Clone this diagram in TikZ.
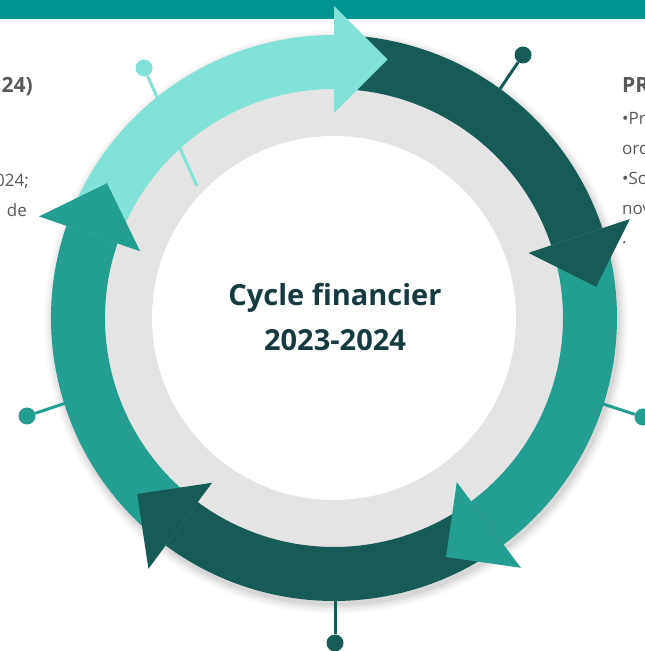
\documentclass[tikz,border=0pt]{standalone}
\usepackage{fontspec}
\setmainfont{Open Sans}
\definecolor{barcol}{HTML}{009490}
\definecolor{lite}{HTML}{82E2D8}
\definecolor{deep}{HTML}{165B55}
\definecolor{mid}{HTML}{249E90}
\definecolor{disccol}{HTML}{E4E4E4}
\definecolor{titlecol}{HTML}{163A40}
\definecolor{bodycol}{HTML}{595959}
\newcommand{\ringbody}[3]{%
  \fill[#1] (#2:283) arc[start angle=#2, end angle=#3, radius=283] -- (#3:229) arc[start angle=#3, end angle=#2, radius=229] -- cycle;}
\newcommand{\ringhead}[2]{%
  \fill[#1] (#2:205) -- (#2:312) -- ({#2-11.7}:264) -- cycle;}
\begin{document}
\begin{tikzpicture}[x=1pt,y=1pt,
  pinline/.style={line width=3pt},
  pindot/.style={circle, inner sep=0pt, minimum size=17pt},
  sidetext/.style={font=\fontsize{17}{20}\selectfont, text=bodycol, inner sep=0pt},
  sidehead/.style={font=\fontsize{21}{24}\selectfont\bfseries, text=bodycol, inner sep=0pt},
  titletext/.style={font=\fontsize{29}{34}\selectfont\bfseries, text=titlecol, inner sep=0pt},
]
\useasboundingbox (0,0) rectangle (645,651);
% top bar
\fill[barcol] (0,632) rectangle (645,651);
% side texts (cut by the page edge)
\node[sidehead, anchor=base east] (l1) at (33,558) {24)};
\node[sidetext, anchor=base east] (l2) at (29,464) {024;};
\node[sidetext, anchor=base east] (l3) at (27,434) {de};
\node[sidehead, anchor=base west] (r1) at (622,558) {PR};
\node[sidetext, anchor=base west] (r2) at (622,526) {•Pr};
\node[sidetext, anchor=base west] (r3) at (622,496) {ord};
\node[sidetext, anchor=base west] (r4) at (622,466) {•So};
\node[sidetext, anchor=base west] (r5) at (622,436) {nov};
\node[sidetext, anchor=base west] (r6) at (622,407) {.};
% soft shadow of the ring
\foreach \i/\o in {9/0.02,7/0.025,5/0.03,3/0.04,1/0.05}
  \fill[black, opacity=\o] (336,329) circle[radius=283+\i];
% grey disc and white centre
\fill[disccol] (334,333) circle[radius=240];
\fill[white] (334,333) circle[radius=182];
% pins
\node[pindot, fill=lite] (p1) at (144,583) {};
\coordinate (q1) at (197,465);
\draw[pinline, lite] (q1) -- (p1);
\node[pindot, fill=deep] (p2) at (523,596) {};
\coordinate (q2) at (500,562);
\draw[pinline, deep] (q2) -- (p2);
\node[pindot, fill=mid] (p3) at (643,234) {};
\coordinate (q3) at (600,248);
\draw[pinline, mid] (q3) -- (p3);
\node[pindot, fill=deep] (p4) at (335,8) {};
\coordinate (q4) at (335,55);
\draw[pinline, deep] (q4) -- (p4);
\node[pindot, fill=mid] (p5) at (27,235) {};
\coordinate (q5) at (66,248);
\draw[pinline, mid] (q5) -- (p5);
% ring arrows
\begin{scope}[shift={(334,333)}]
  \ringbody{lite}{161}{90}
  \ringbody{deep}{90}{18.5}
  \ringbody{mid}{18.5}{-53.2}
  \ringbody{deep}{-53.2}{-126.5}
  \ringbody{mid}{-126.5}{-199}
  \ringhead{lite}{90}
  \ringhead{deep}{18.5}
  \ringhead{mid}{-53.2}
  \ringhead{deep}{-126.5}
  \ringhead{mid}{161}
\end{scope}
% title
\node[titletext] (t1) at (335,353) {Cycle financier};
\node[titletext] (t2) at (335,311) {2023-2024};
\end{tikzpicture}
\end{document}
